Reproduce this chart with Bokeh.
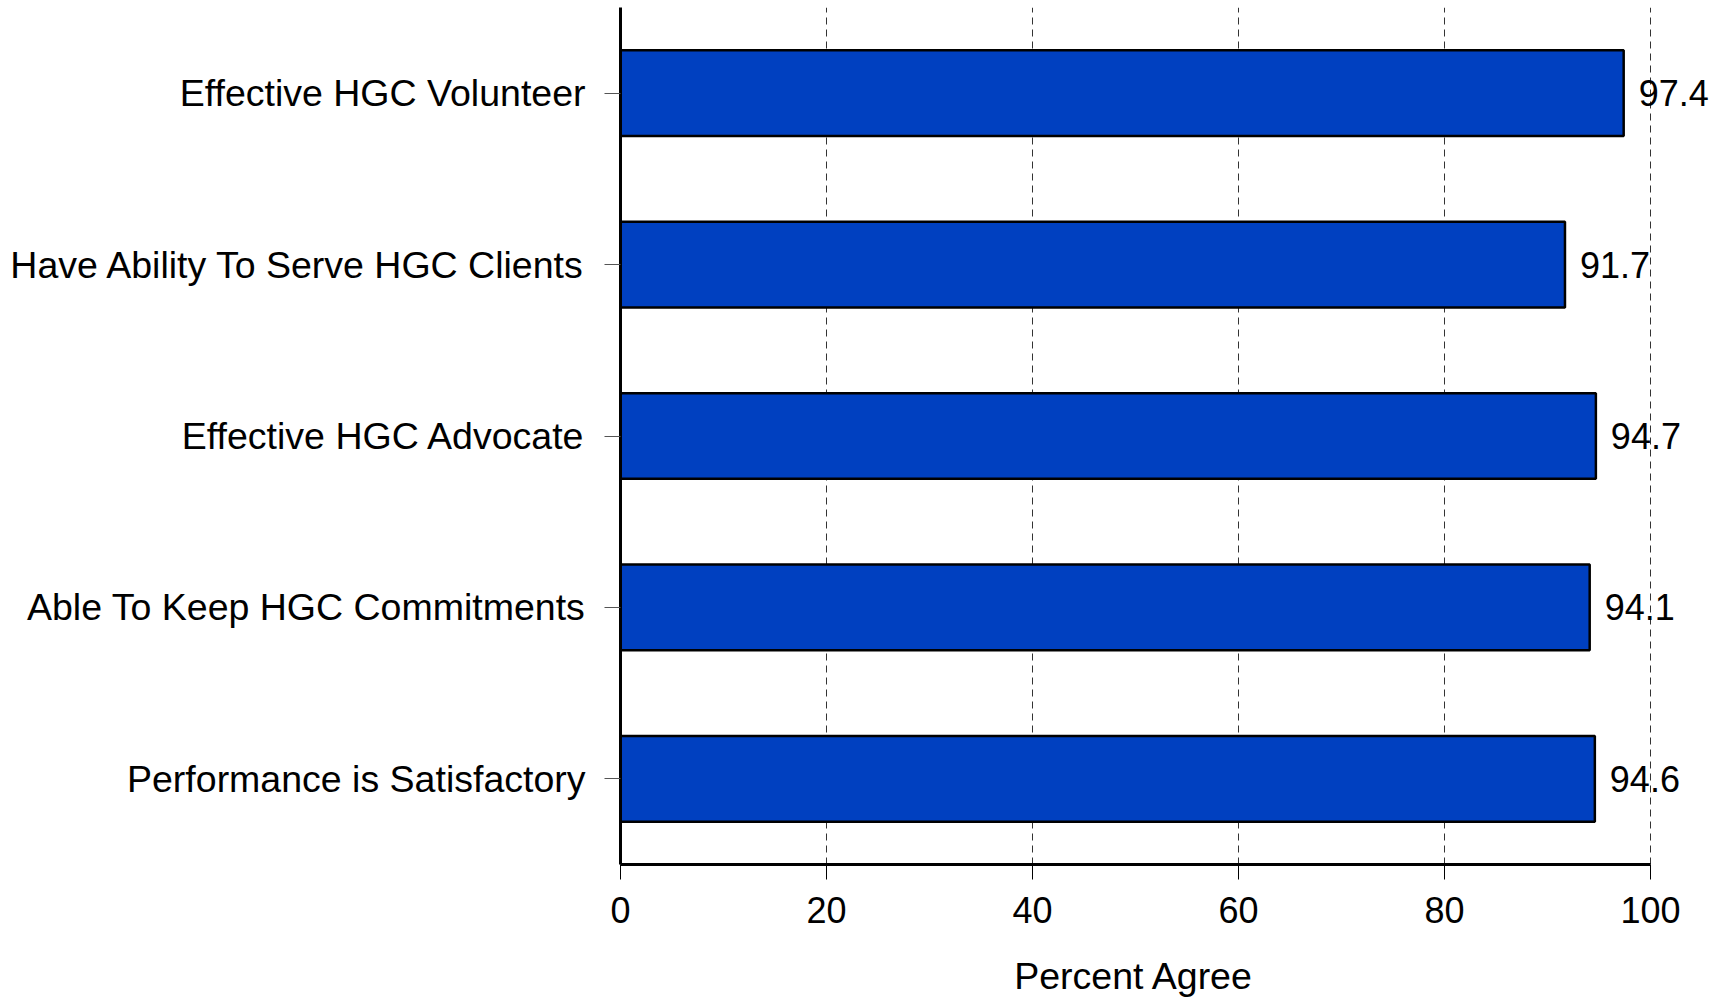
from bokeh.plotting import figure
from bokeh.models import ColumnDataSource, LabelSet, FixedTicker, Range1d, FactorRange
from bokeh.core.properties import value
from bokeh.embed import file_html
from bokeh.resources import INLINE

categories = [
    "Effective HGC Volunteer",
    "Have Ability To Serve HGC Clients",
    "Effective HGC Advocate",
    "Able To Keep HGC Commitments",
    "Performance is Satisfactory",
]
values = [97.4, 91.7, 94.7, 94.1, 94.6]
value_labels = ["97.4", "91.7", "94.7", "94.1", "94.6"]
x_ticks = [0, 20, 40, 60, 80, 100]
x_title = "Percent Agree"

FONT = "Liberation Sans"

source = ColumnDataSource(dict(cat=categories, val=values, lab=value_labels))

p = figure(
    width=1723, height=999,
    y_range=FactorRange(factors=list(reversed(categories)), range_padding=0),
    x_range=Range1d(0, 106.8),
    output_backend="svg", toolbar_location=None,
    min_border_left=620, min_border_right=3, min_border_top=7, min_border_bottom=134,
)
p.outline_line_color = None
p.background_fill_color = "white"
p.border_fill_color = "white"

p.hbar(y="cat", left=0, right="val", height=0.5, source=source,
       fill_color="#0040C0", line_color="black", line_width=2.5)

labels = LabelSet(x="val", y="cat", text="lab", source=source, x_offset=15,
                  text_baseline="middle", text_align="left",
                  text_font_size="36px", text_font=value(FONT), text_color="black")
p.add_layout(labels)

# grid
p.ygrid.grid_line_color = None
p.xgrid.ticker = FixedTicker(ticks=x_ticks)
p.xgrid.grid_line_color = "#333333"
p.xgrid.grid_line_width = 1
p.xgrid.grid_line_dash = "7 5"

# x axis (title padded with no-break spaces so it centres under 0-100)
p.xaxis.ticker = FixedTicker(ticks=x_ticks)
p.xaxis.bounds = (0, 100)
p.xaxis.axis_label = x_title + "\u00a0" * 7
p.xaxis.axis_label_text_font = FONT
p.xaxis.axis_label_text_font_size = "37.5px"
p.xaxis.axis_label_text_font_style = "normal"
p.xaxis.axis_label_text_color = "black"
p.xaxis.axis_label_standoff = 29
p.xaxis.major_label_text_font = FONT
p.xaxis.major_label_text_font_size = "36px"
p.xaxis.major_label_text_color = "black"
p.xaxis.major_label_standoff = 17
p.xaxis.axis_line_width = 3
p.xaxis.axis_line_color = "black"
p.xaxis.major_tick_out = 15
p.xaxis.major_tick_in = 0
p.xaxis.major_tick_line_color = "black"
p.xaxis.major_tick_line_width = 1
p.xaxis.minor_tick_line_color = None

# y axis
p.yaxis.major_label_text_font = FONT
p.yaxis.major_label_text_font_size = "37.5px"
p.yaxis.major_label_text_color = "black"
p.yaxis.major_label_standoff = 19
p.yaxis.axis_line_width = 3
p.yaxis.axis_line_color = "black"
p.yaxis.major_tick_out = 16
p.yaxis.major_tick_in = 0
p.yaxis.major_tick_line_color = "#555555"
p.yaxis.major_tick_line_width = 1

open("out.html", "w").write(file_html(p, INLINE))
